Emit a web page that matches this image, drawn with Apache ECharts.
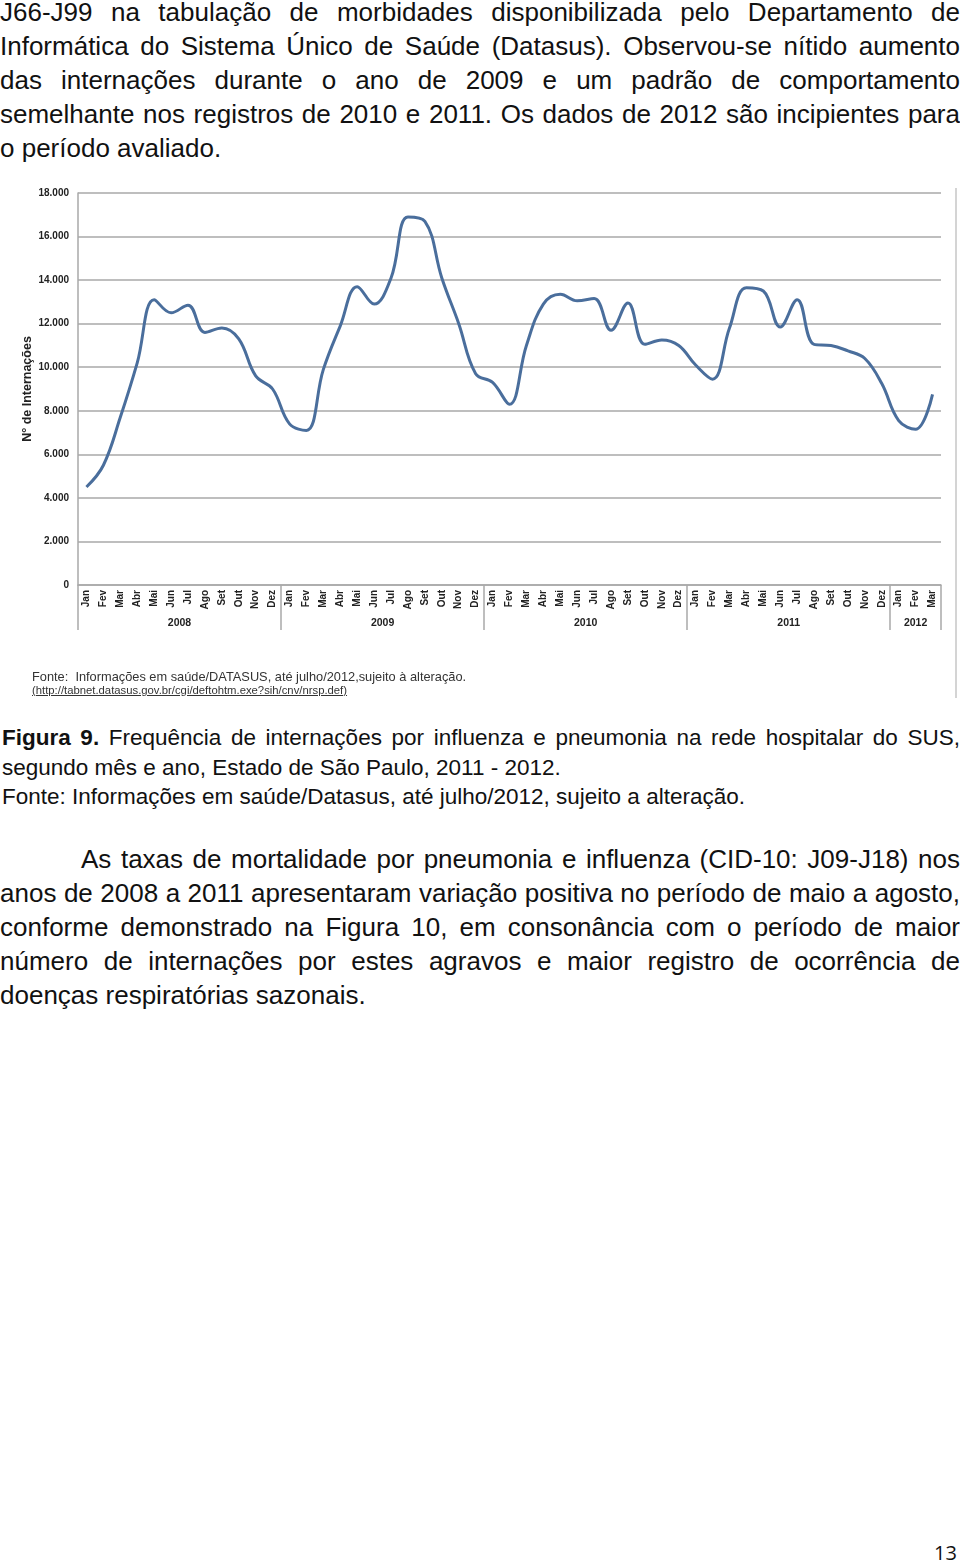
<!DOCTYPE html>
<html>
<head>
<meta charset="utf-8">
<script src="https://cdn.jsdelivr.net/npm/echarts@6/dist/echarts.min.js"></script>
<style>
  html, body { margin: 0; padding: 0; background: #fff; }
  body { width: 960px; height: 1561px; position: relative; overflow: hidden;
         font-family: "Liberation Sans", Arial, sans-serif; color: #111; }
  .p { position: absolute; left: 0; width: 960px; font-size: 26px; line-height: 34px; }
  .j { text-align: justify; text-align-last: justify; }
  .cap { position: absolute; left: 2px; width: 958px; font-size: 22.5px; line-height: 29.5px; }
  #chart { position: absolute; left: 0; top: 180px; width: 960px; height: 520px; }
  #frame { position: absolute; left: 955px; top: 188px; width: 2px; height: 510px; background: #d4d4d4; }
  .src1 { position: absolute; left: 32px; top: 669px; font-size: 12.8px; color: #333; white-space: nowrap; }
  .src2 { position: absolute; left: 32px; top: 684px; font-size: 11.3px; color: #333; text-decoration: underline; white-space: nowrap; }
  #pg { position: absolute; left: 934px; top: 1539px; font-family: "Open Sans", sans-serif; font-size: 20px; color: #111; }
</style>
</head>
<body>
<div class="p" style="top:-5px;">
  <div class="j">J66-J99 na tabulação de morbidades disponibilizada pelo Departamento de</div>
  <div class="j">Informática do Sistema Único de Saúde (Datasus). Observou-se nítido aumento</div>
  <div class="j">das internações durante o ano de 2009 e um padrão de comportamento</div>
  <div class="j">semelhante nos registros de 2010 e 2011. Os dados de 2012 são incipientes para</div>
  <div>o período avaliado.</div>
</div>

<div id="chart"></div>
<div id="frame"></div>
<div class="src1">Fonte:&nbsp; Informações em saúde/DATASUS, até julho/2012,sujeito à alteração.</div>
<div class="src2">(http://tabnet.datasus.gov.br/cgi/deftohtm.exe?sih/cnv/nrsp.def)</div>

<div class="cap" style="top:723px;">
  <div class="j"><b>Figura 9.</b> Frequência de internações por influenza e pneumonia na rede hospitalar do SUS,</div>
  <div>segundo mês e ano, Estado de São Paulo, 2011 - 2012.</div>
  <div>Fonte: Informações em saúde/Datasus, até julho/2012, sujeito a alteração.</div>
</div>

<div class="p" style="top:842px;">
  <div class="j" style="padding-left:81px;">As taxas de mortalidade por pneumonia e influenza (CID-10: J09-J18) nos</div>
  <div class="j">anos de 2008 a 2011 apresentaram variação positiva no período de maio a agosto,</div>
  <div class="j">conforme demonstrado na Figura 10, em consonância com o período de maior</div>
  <div class="j">número de internações por estes agravos e maior registro de ocorrência de</div>
  <div>doenças respiratórias sazonais.</div>
</div>

<div id="pg">13</div>

<script>
// ---- data ----
var months = ['Jan','Fev','Mar','Abr','Mai','Jun','Jul','Ago','Set','Out','Nov','Dez'];
var years = ['2008','2009','2010','2011','2012'];
var monthsPerYear = [12, 12, 12, 12, 3];
var internacoes2008 = [4500, 5500, 7700, 10200, 13100, 12500, 12850, 11600, 11800, 11300, 9600, 9000];
var internacoes2009 = [7400, 7100, 9900, 11900, 13700, 12900, 14100, 16900, 16700, 14100, 12000, 9700];
var internacoes2010 = [9300, 8300, 11000, 12900, 13350, 13050, 13150, 11700, 12950, 11050, 11250, 11000];
var internacoes2011 = [10100, 9450, 11800, 13650, 13500, 11850, 13100, 11050, 11000, 10750, 10400, 9250];
var internacoes2012 = [7550, 7150, 8750];
var yTicks = [0, 2000, 4000, 6000, 8000, 10000, 12000, 14000, 16000, 18000];

// ---- build ----
var categories = [];
var values = [];
var seriesByYear = [internacoes2008, internacoes2009, internacoes2010, internacoes2011, internacoes2012];
var boundaries = [0];
var yearCenters = {};
years.forEach(function (y, i) {
  for (var m = 0; m < monthsPerYear[i]; m++) {
    categories.push(months[m] + '\n' + y);
    values.push(seriesByYear[i][m]);
  }
  var start = boundaries[boundaries.length - 1];
  var end = start + monthsPerYear[i];
  yearCenters[(start + end) / 2] = y;
  boundaries.push(end);
});
var total = categories.length;

function fmtThousands(v) {
  return String(v).replace(/\B(?=(\d{3})+(?!\d))/g, '.');
}

var chart = echarts.init(document.getElementById('chart'), null, { renderer: 'canvas' });
var gridColor = '#a9a9a9';
chart.setOption({
  animation: false,
  backgroundColor: '#fff',
  grid: { left: 78, right: 19, top: 13, bottom: 115, containLabel: false },
  xAxis: [
    {
      type: 'category',
      data: categories,
      boundaryGap: true,
      axisLine: { show: true, lineStyle: { color: gridColor, width: 1.5 } },
      axisTick: {
        show: true,
        length: 45,
        interval: function (index) { return boundaries.indexOf(index) >= 0; },
        lineStyle: { color: gridColor, width: 1.5 }
      },
      axisLabel: {
        interval: 0,
        rotate: 90,
        margin: 5,
        fontFamily: 'Liberation Sans, Arial',
        fontWeight: 'bold',
        fontSize: 10,
        color: '#222',
        formatter: function (v) { return v.split('\n')[0]; }
      },
      splitLine: { show: false }
    },
    {
      type: 'value',
      position: 'bottom',
      min: 0,
      max: total,
      interval: 1.5,
      axisLine: { show: false },
      axisTick: { show: false },
      splitLine: { show: false },
      axisLabel: {
        margin: 33,
        fontFamily: 'Liberation Sans, Arial',
        fontWeight: 'bold',
        fontSize: 10.5,
        color: '#222',
        showMinLabel: true,
        showMaxLabel: true,
        formatter: function (v) {
          for (var k in yearCenters) {
            if (Math.abs(parseFloat(k) - v) < 1e-6) return yearCenters[k];
          }
          return '';
        }
      }
    }
  ],
  yAxis: {
    type: 'value',
    min: yTicks[0],
    max: yTicks[yTicks.length - 1],
    interval: yTicks[1] - yTicks[0],
    name: 'N° de Internações',
    nameLocation: 'middle',
    nameGap: 44,
    nameMoveOverlap: false,
    nameTextStyle: { fontFamily: 'Liberation Sans, Arial', fontWeight: 'bold', fontSize: 12.5, color: '#222' },
    axisLine: { show: true, lineStyle: { color: gridColor, width: 1.5 } },
    axisTick: { show: false },
    axisLabel: {
      margin: 9,
      fontFamily: 'Liberation Sans, Arial',
      fontWeight: 'bold',
      fontSize: 10,
      color: '#222',
      formatter: function (v) { return fmtThousands(v); }
    },
    splitLine: { show: true, lineStyle: { color: gridColor, width: 1.5 } }
  },
  series: [{
    type: 'line',
    xAxisIndex: 0,
    data: values,
    smooth: 0.4,
    symbol: 'none',
    lineStyle: { color: '#4a6e9c', width: 3 }
  }]
});
</script>
</body>
</html>
